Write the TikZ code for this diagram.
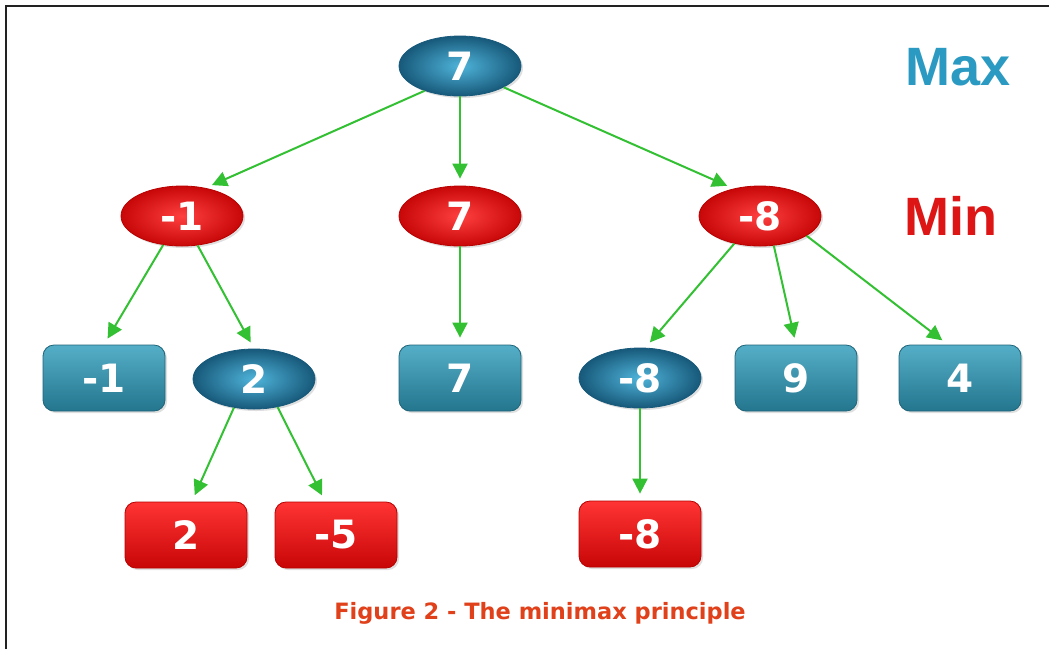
\documentclass[tikz,border=0pt]{standalone}
\usepackage{fontspec}
\setmainfont{DejaVu Sans}
\newfontfamily\labfont{Liberation Sans}
\usetikzlibrary{shapes.geometric,arrows.meta,shadows}
\definecolor{bluedark}{HTML}{17597A}
\definecolor{bluelight}{HTML}{4FB4DA}
\definecolor{tealtop}{HTML}{55AEC7}
\definecolor{tealbot}{HTML}{23768E}
\definecolor{tealedge}{HTML}{1E6479}
\definecolor{reddark}{HTML}{B80000}
\definecolor{redouter}{HTML}{C80808}
\definecolor{redlight}{HTML}{FF4040}
\definecolor{redtop}{HTML}{FF3434}
\definecolor{redbot}{HTML}{C80606}
\definecolor{arrowgreen}{HTML}{33C033}
\definecolor{maxblue}{HTML}{2B9AC2}
\definecolor{minred}{HTML}{DD1515}
\definecolor{captionred}{HTML}{E0401A}
\definecolor{frame}{HTML}{222222}
\begin{document}
\begin{tikzpicture}[x=1pt,y=-1pt,
  num/.style={text=white,font=\fontsize{39}{39}\selectfont\bfseries,inner sep=0pt},
  shad/.style={drop shadow={opacity=0.25,shadow xshift=2pt,shadow yshift=-2pt}},
  maxell/.style={num,shad,ellipse,minimum width=122pt,minimum height=60pt,
    draw=bluedark,line width=0.8pt,inner color=bluelight,outer color=bluedark},
  minell/.style={num,shad,ellipse,minimum width=122pt,minimum height=60pt,
    draw=reddark,line width=0.8pt,inner color=redlight,outer color=redouter},
  bluebox/.style={num,shad,rectangle,rounded corners=11pt,minimum width=122pt,minimum height=66pt,
    draw=tealedge,line width=0.8pt,top color=tealtop,bottom color=tealbot},
  redbox/.style={num,shad,rectangle,rounded corners=11pt,minimum width=122pt,minimum height=66pt,
    draw=reddark,line width=0.8pt,top color=redtop,bottom color=redbot},
  edge/.style={draw=arrowgreen,line width=2pt,-{Triangle[length=15pt,width=15pt]},shorten >=7pt}
]
\fill[white] (0,0) rectangle (1049,649);
\useasboundingbox (0,0) rectangle (1049,649);
\draw[frame,line width=2pt] (6,649) -- (6,6) -- (1049,6);

% level 0
\node[maxell] (root) at (460,66) {7};
% level 1
\node[minell] (m1) at (182,216) {-1};
\node[minell] (m2) at (460,216) {7};
\node[minell] (m3) at (760,216) {-8};
% level 2
\node[bluebox] (r1) at (104,378) {-1};
\node[maxell] (e2) at (254,379) {2};
\node[bluebox] (r3) at (460,378) {7};
\node[maxell] (e4) at (640,378) {-8};
\node[bluebox] (r5) at (796,378) {9};
\node[bluebox] (r6) at (960,378) {4};
% level 3
\node[redbox] (r7) at (186,535) {2};
\node[redbox] (r8) at (336,535) {-5};
\node[redbox] (r9) at (640,534) {-8};

% labels
\node[anchor=base,inner sep=0pt,text=maxblue,font=\labfont\fontsize{54}{54}\selectfont\bfseries] (maxlab) at (958,85) {Max};
\node[anchor=base,inner sep=0pt,text=minred,font=\labfont\fontsize{54}{54}\selectfont\bfseries] (minlab) at (951,235) {Min};
\node[anchor=base,inner sep=0pt,text=captionred,font=\fontsize{22.5}{22.5}\selectfont\bfseries] (caption) at (540,619) {Figure 2 - The minimax principle};

% edges
\draw[edge] (root.215) -- (m1.50);
\draw[edge] (root.south) -- (m2.north);
\draw[edge] (root.334) -- (m3.134);
\draw[edge] (m1.237) -- (r1.north);
\draw[edge] (m1.298) -- (e2.north);
\draw[edge] (m2.south) -- (r3.north);
\draw[edge] (m3.227) -- (e4.80);
\draw[edge] (m3.295) -- (r5.north);
\draw[edge] (m3.337) -- (r6.110);
\draw[edge] (e2.235) -- (r7.80);
\draw[edge] (e2.310) -- (r8.108);
\draw[edge] (e4.south) -- (r9.north);
\end{tikzpicture}
\end{document}
